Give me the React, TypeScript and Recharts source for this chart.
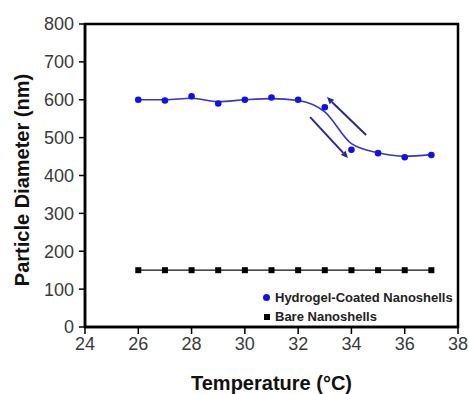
import React from 'react';
import {
  LineChart, Line, XAxis, YAxis, ReferenceArea, ReferenceLine, Legend, Label,
} from 'recharts';

const temps = [26, 27, 28, 29, 30, 31, 32, 33, 34, 35, 36, 37];
const hydrogel = [600, 598, 609, 590, 600, 606, 600, 580, 468, 459, 448, 454];
const hydrogelFit = [600, 600, 604, 595, 600, 603, 598, 568, 484, 460, 451, 455];
const bare = [150, 150, 150, 150, 150, 150, 150, 150, 150, 150, 150, 150];
const xTicks = [24, 26, 28, 30, 32, 34, 36, 38];
const yTicks = [0, 100, 200, 300, 400, 500, 600, 700, 800];
const arrowCooling = [{ x: 34.55, y: 507 }, { x: 33.08, y: 607 }];
const arrowHeating = [{ x: 32.45, y: 554 }, { x: 33.87, y: 446 }];
const seriesNames = ['Hydrogel-Coated Nanoshells', 'Bare Nanoshells'];

const data = temps.map((t, i) => ({
  t,
  hydrogel: hydrogel[i],
  fit: hydrogelFit[i],
  bare: bare[i],
}));

const FONT = '"Liberation Sans", Arial, sans-serif';
const BLUE = '#1010e8';
const CURVE = '#3535d0';
const ARROW = '#2a2a8c';

const arrowShape = (props: any) => {
  const { x1, y1, x2, y2 } = props;
  if ([x1, y1, x2, y2].some((v) => typeof v !== 'number' || isNaN(v))) return <g />;
  const dx = x2 - x1;
  const dy = y2 - y1;
  const len = Math.sqrt(dx * dx + dy * dy) || 1;
  const ux = dx / len;
  const uy = dy / len;
  const hl = 7;
  const hw = 3.2;
  const bx = x2 - ux * hl;
  const by = y2 - uy * hl;
  const p1 = `${x2},${y2}`;
  const p2 = `${bx - uy * hw},${by + ux * hw}`;
  const p3 = `${bx + uy * hw},${by - ux * hw}`;
  return (
    <g>
      <line x1={x1} y1={y1} x2={bx} y2={by} stroke={ARROW} strokeWidth={2} />
      <polygon points={`${p1} ${p2} ${p3}`} fill={ARROW} />
    </g>
  );
};

const squareDot = (props: any) => {
  const { cx, cy, index } = props;
  if (typeof cx !== 'number' || typeof cy !== 'number') return <g key={`s${index}`} />;
  return <rect key={`s${index}`} x={cx - 3} y={cy - 3} width={6} height={6} fill="#000" />;
};

const roundDot = (props: any) => {
  const { cx, cy, index } = props;
  if (typeof cx !== 'number' || typeof cy !== 'number') return <g key={`c${index}`} />;
  return <circle key={`c${index}`} cx={cx} cy={cy} r={3.3} fill={BLUE} />;
};

const renderLegend = () => (
  <div style={{ fontFamily: FONT, fontWeight: 'bold', fontSize: 13, color: '#222' }}>
    <div style={{ display: 'flex', alignItems: 'center', height: 19 }}>
      <span style={{ width: 7, height: 7, borderRadius: '50%', background: BLUE, display: 'inline-block', marginRight: 5 }} />
      <span>{seriesNames[0]}</span>
    </div>
    <div style={{ display: 'flex', alignItems: 'center', height: 19 }}>
      <span style={{ width: 7, height: 7, display: 'inline-flex', justifyContent: 'center', alignItems: 'center', marginRight: 5 }}>
        <span style={{ width: 6, height: 6, background: '#000', display: 'inline-block' }} />
      </span>
      <span>{seriesNames[1]}</span>
    </div>
  </div>
);

const xLabel = (props: any) => {
  const vb = props.viewBox || {};
  const cx = vb.x + vb.width / 2;
  return (
    <text x={cx} y={390} textAnchor="middle" fontFamily={FONT} fontWeight="bold" fontSize={20} fill="#111">
      Temperature (°C)
    </text>
  );
};

const yLabel = () => (
  <text
    x={0}
    y={0}
    transform="translate(29,180) rotate(-90)"
    textAnchor="middle"
    fontFamily={FONT}
    fontWeight="bold"
    fontSize={20}
    fill="#111"
  >
    Particle Diameter (nm)
  </text>
);

export default function App() {
  return (
    <div style={{ position: 'absolute', left: 0, top: 0, width: 469, height: 394, background: '#fff' }}>
      <LineChart
        width={469}
        height={394}
        data={data}
        margin={{ top: 24, right: 11, bottom: 37, left: 0 }}
      >
        <XAxis
          dataKey="t"
          type="number"
          domain={[24, 38]}
          ticks={xTicks}
          interval={0}
          height={30}
          tickSize={7}
          tickMargin={3}
          axisLine={{ stroke: '#000', strokeWidth: 2.5 }}
          tickLine={{ stroke: '#000', strokeWidth: 1.5 }}
          tick={{ fontFamily: FONT, fontSize: 18, fill: '#3a3a3a' }}
        >
          <Label content={xLabel} />
        </XAxis>
        <YAxis
          type="number"
          domain={[0, 800]}
          ticks={yTicks}
          interval={0}
          width={85}
          tickSize={6}
          tickMargin={5}
          axisLine={{ stroke: '#000', strokeWidth: 2.5 }}
          tickLine={{ stroke: '#000', strokeWidth: 1.5 }}
          tick={{ fontFamily: FONT, fontSize: 18, fill: '#3a3a3a' }}
        >
          <Label content={yLabel} />
        </YAxis>
        <ReferenceArea
          x1={24}
          x2={38}
          y1={0}
          y2={800}
          fill="none"
          fillOpacity={0}
          stroke="#000"
          strokeWidth={2.5}
          ifOverflow="visible"
        />
        <Line
          dataKey="fit"
          type="monotone"
          stroke={CURVE}
          strokeWidth={1.6}
          dot={false}
          activeDot={false}
          legendType="none"
          isAnimationActive={false}
        />
        <Line
          dataKey="hydrogel"
          name={seriesNames[0]}
          stroke="none"
          strokeWidth={0}
          dot={roundDot}
          activeDot={false}
          isAnimationActive={false}
        />
        <Line
          dataKey="bare"
          name={seriesNames[1]}
          type="linear"
          stroke="#111"
          strokeWidth={1.2}
          dot={squareDot}
          activeDot={false}
          isAnimationActive={false}
        />
        <ReferenceLine segment={arrowCooling} shape={arrowShape} ifOverflow="visible" />
        <ReferenceLine segment={arrowHeating} shape={arrowShape} ifOverflow="visible" />
        <Legend
          layout="vertical"
          align="center"
          verticalAlign="middle"
          content={renderLegend}
          wrapperStyle={{ left: 263, top: 288, width: 200 }}
        />
      </LineChart>
    </div>
  );
}
